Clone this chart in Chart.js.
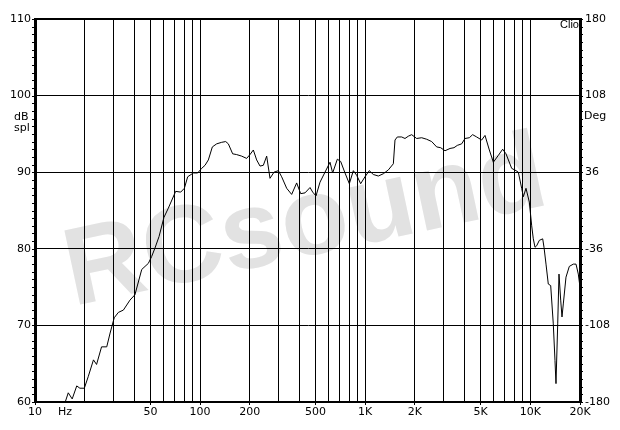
<!DOCTYPE html>
<html>
<head>
<meta charset="utf-8">
<script src="https://cdn.jsdelivr.net/npm/chart.js@4/dist/chart.umd.min.js"></script>
<style>
html,body{margin:0;padding:0;background:#fff;}
#wrap{width:620px;height:430px;}
</style>
</head>
<body>
<div id="wrap"><canvas id="c" width="620" height="430"></canvas></div>
<script>
// ---- data ----
const freqHz = [15.3,15.9,16.8,17.9,18.7,19.9,21.0,22.6,23.6,25.3,27.2,28.5,30.2,32.0,34.3,37.6,40.3,44.3,46.4,48.6,50.9,53.3,56.4,60.4,64.2,71.1,76.3,80.3,84.1,91.0,96.7,
 102.2,107.1,112.2,118.6,126.0,135.1,142.9,148.3,157.5,166.5,178.5,191.4,200.5,210.1,220.1,230.6,241.5,253.1,265.1,280.3,297.8,311.9,334.5,358.6,384.5,406.6,431.9,463.2,480.8,503.6,532.5,570.9,612.1,635.3,678.1,710.4,754.6,801.6,847.6,887.9,938.8,997.2,1059,1120,1201,1288,1381,1481,1515,1565,1663,1742,1825,1912,2050,2198,2357,2527,2710,2865,3044,3264,3451,3614,3839,4022,4272,4475,4733,5075,5317,5648,5972,6404,6802,7126,7713,8192,8463,8866,9075,9418,9865,
 10197,10428,10678,10934,11338,11888,12106,12448,12853,13290,13780,14111,14310,14655,14920,15278,15559,15844,16452,17228,18216,18916,19531,20000];
const splDb = [60.1,61.2,60.4,62.1,61.8,61.8,63.3,65.5,64.9,67.2,67.2,69.0,71.0,71.7,72.0,73.3,74.0,77.3,77.7,78.1,79.0,80.1,81.6,84.1,85.3,87.5,87.4,87.9,89.4,89.9,89.9,
 90.5,90.9,91.6,93.3,93.7,93.9,94.0,93.7,92.4,92.3,92.1,91.8,92.3,92.9,91.6,90.8,90.9,92.1,89.2,90.0,90.2,89.4,87.9,87.1,88.6,87.2,87.3,88.0,87.4,86.9,88.7,90.0,91.3,89.9,91.7,91.4,89.9,88.5,90.2,89.6,88.5,89.4,90.2,89.7,89.5,89.8,90.3,91.1,94.2,94.6,94.6,94.4,94.7,94.9,94.4,94.5,94.3,94.0,93.3,93.2,92.8,93.1,93.2,93.5,93.7,94.4,94.5,94.9,94.6,94.2,94.8,92.9,91.3,92.2,93.0,92.4,90.5,90.2,90.0,87.9,86.8,87.9,86.1,
 83.0,81.3,80.2,80.4,81.1,81.3,80.2,78.0,75.4,75.2,70.2,65.4,62.4,70.2,76.7,73.3,71.1,72.8,76.3,77.7,78.0,78.0,76.7,75.0];

const xGridFreqs = [10,20,30,40,50,60,70,80,90,100,200,300,400,500,600,700,800,900,1000,2000,3000,4000,5000,6000,7000,8000,9000,10000,20000];
const xLabelFreqs = [10,50,100,200,500,1000,2000,5000,10000,20000];
const xLabelTexts = ['10','50','100','200','500','1K','2K','5K','10K','20K'];
const xUnitFreq = 15.2;       // where the "Hz" unit label sits
const xUnitText = 'Hz';
const splMin = 60, splMax = 110, splStep = 10;
const degMin = -180, degMax = 180, degStep = 72;
const leftUnit = ['dB','spl'];
const rightUnit = 'Deg';
const brandText = 'Clio';
const watermarkText = 'RCsound';

const FONT = {family:'"DejaVu Sans", Verdana, sans-serif', size:11};

const extras = {
  id:'extras',
  beforeDraw(chart){
    const ctx = chart.ctx;
    ctx.save();
    ctx.fillStyle = '#fff';
    ctx.fillRect(0,0,chart.width,chart.height);
    // watermark
    ctx.translate(312, 255);
    ctx.rotate(-0.21);
    ctx.font = 'bold 110px "Liberation Sans", Arial, sans-serif';
    ctx.fillStyle = '#e2e2e2';
    ctx.textAlign = 'center';
    ctx.textBaseline = 'alphabetic';
    ctx.fillText(watermarkText, 0, 0);
    ctx.restore();
  },
  afterDraw(chart){
    const ctx = chart.ctx;
    const a = chart.chartArea;
    const yl = chart.scales.y, yr = chart.scales.y2;
    ctx.save();
    ctx.strokeStyle = '#000';
    ctx.lineWidth = 1;
    ctx.beginPath();
    for (let v = splMin; v <= splMax; v += 1) {
      const py = Math.round(yl.getPixelForValue(v)) + 0.5;
      ctx.moveTo(a.left - 3, py); ctx.lineTo(a.left, py);
    }
    const n = (splMax - splMin);
    for (let i = 0; i <= n; i++) {
      const py = Math.round(yr.getPixelForValue(degMin + i * (degMax - degMin) / n)) + 0.5;
      ctx.moveTo(a.right, py); ctx.lineTo(a.right + 3, py);
    }
    ctx.stroke();
    // frame top
    ctx.lineWidth = 2;
    ctx.beginPath();
    ctx.moveTo(a.left, a.top); ctx.lineTo(a.right, a.top);
    ctx.stroke();
    // unit texts
    ctx.fillStyle = '#000';
    ctx.font = '11px "DejaVu Sans", Verdana, sans-serif';
    ctx.textBaseline = 'middle';
    ctx.textAlign = 'left';
    ctx.fillText(leftUnit[0], 14, 117);
    ctx.fillText(leftUnit[1], 14, 128);
    ctx.fillText(rightUnit, 584, 116);
    ctx.font = '11px "Liberation Sans", Arial, sans-serif';
    ctx.fillText(brandText, 560, 25);
    ctx.restore();
  }
};

new Chart(document.getElementById('c'), {
  type:'line',
  data:{
    datasets:[{
      data: freqHz.map((f,i)=>({x:f, y:splDb[i]})),
      borderColor:'#000',
      borderWidth:1,
      pointRadius:0,
      tension:0,
      fill:false
    }]
  },
  options:{
    responsive:false,
    animation:false,
    devicePixelRatio:1,
    layout:{padding:{top:19,left:0,right:0,bottom:0}},
    plugins:{legend:{display:false}, tooltip:{enabled:false}},
    scales:{
      x:{
        type:'logarithmic', position:'bottom', min:10, max:20000,
        afterBuildTicks(s){
          s.ticks = xGridFreqs.concat([xUnitFreq]).sort((a,b)=>a-b).map(v=>({value:v}));
        },
        ticks:{
          autoSkip:false, maxRotation:0, minRotation:0, padding:1,
          color:'#000', font:FONT,
          callback(v){
            if (Math.abs(v - xUnitFreq) < 1e-6) return xUnitText;
            const k = xLabelFreqs.indexOf(v);
            return k >= 0 ? xLabelTexts[k] : '';
          }
        },
        grid:{
          color(ctx){ return ctx.tick && Math.abs(ctx.tick.value - xUnitFreq) < 1e-6 ? 'rgba(0,0,0,0)' : '#000'; },
          tickColor(ctx){ return ctx.tick && xLabelFreqs.indexOf(ctx.tick.value) >= 0 ? '#000' : 'rgba(0,0,0,0)'; },
          lineWidth:1, tickLength:3
        },
        border:{display:true, color:'#000', width:2},
        afterFit(s){ s.height = 28; }
      },
      y:{
        type:'linear', position:'left', min:splMin, max:splMax,
        ticks:{stepSize:splStep, padding:4, color:'#000', font:FONT},
        grid:{color:'#000', lineWidth:1, drawTicks:false},
        border:{display:true, color:'#000', width:3},
        afterFit(s){ s.width = 35; }
      },
      y2:{
        type:'linear', position:'right', min:degMin, max:degMax,
        ticks:{stepSize:degStep, padding:5, color:'#000', font:FONT},
        grid:{drawOnChartArea:false, drawTicks:false},
        border:{display:true, color:'#000', width:3},
        afterFit(s){ s.width = 40; }
      }
    }
  },
  plugins:[extras]
});
</script>
</body>
</html>
